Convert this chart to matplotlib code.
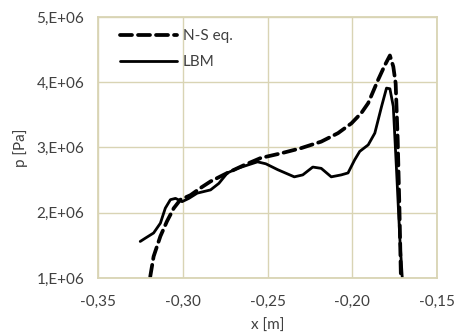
import matplotlib

matplotlib.use("Agg")

import matplotlib.pyplot as plt
from matplotlib.ticker import FuncFormatter

# N-S equations curve
ns_x = [-0.3192, -0.3172, -0.3132, -0.3093, -0.3053, -0.3014, -0.2954, -0.2895,
        -0.2836, -0.2737, -0.2638, -0.2539, -0.2421, -0.2302, -0.2183, -0.2084,
        -0.2005, -0.1946, -0.1906, -0.1847, -0.1808, -0.1778, -0.1758, -0.1744,
        -0.1732, -0.1722, -0.1713]
ns_p = [1.02e6, 1.33e6, 1.64e6, 1.87e6, 2.07e6, 2.20e6, 2.27e6, 2.38e6,
        2.48e6, 2.61e6, 2.73e6, 2.84e6, 2.91e6, 2.99e6, 3.09e6, 3.22e6,
        3.37e6, 3.53e6, 3.68e6, 4.04e6, 4.26e6, 4.41e6, 4.24e6, 3.98e6,
        3.12e6, 2.09e6, 1.0e6]

# LBM curve
lbm_x = [-0.3251, -0.3221, -0.3172, -0.3132, -0.3103, -0.3073, -0.3043, -0.3004,
         -0.2964, -0.2915, -0.2836, -0.2787, -0.2737, -0.2677, -0.2618, -0.2559,
         -0.2510, -0.2440, -0.2342, -0.2292, -0.2233, -0.2183, -0.2124, -0.2065,
         -0.2025, -0.1986, -0.1956, -0.1906, -0.1867, -0.1827, -0.1798, -0.1778,
         -0.1758, -0.1738, -0.1719, -0.1705]
lbm_p = [1.56e6, 1.61e6, 1.69e6, 1.84e6, 2.07e6, 2.20e6, 2.22e6, 2.17e6,
         2.22e6, 2.30e6, 2.35e6, 2.45e6, 2.61e6, 2.68e6, 2.73e6, 2.78e6,
         2.75e6, 2.66e6, 2.55e6, 2.58e6, 2.70e6, 2.68e6, 2.55e6, 2.58e6,
         2.61e6, 2.81e6, 2.94e6, 3.04e6, 3.22e6, 3.63e6, 3.91e6, 3.90e6,
         3.63e6, 2.61e6, 1.59e6, 1.0e6]

x_ticks = [-0.35, -0.30, -0.25, -0.20, -0.15]
y_ticks = [1e6, 2e6, 3e6, 4e6, 5e6]

plt.rcParams["font.family"] = ["Lato", "DejaVu Sans"]
grid_color = "#d9d4b4"
text_color = "#404040"

fig = plt.figure(figsize=(4.54, 3.33), dpi=100)
ax = fig.add_axes([0.2159, 0.1652, 0.9626 - 0.2159, 0.949 - 0.1652])

ax.plot(ns_x, ns_p, color="black", linewidth=2.7, linestyle=(0, (3.2, 1.6)),
        dash_capstyle="round", solid_joinstyle="round", label="N-S eq.")
ax.plot(lbm_x, lbm_p, color="black", linewidth=2.0, solid_capstyle="round",
        solid_joinstyle="round", label="LBM")

ax.set_xlim(-0.35, -0.15)
ax.set_ylim(1e6, 5e6)
ax.set_xticks(x_ticks)
ax.set_yticks(y_ticks)
ax.xaxis.set_major_formatter(FuncFormatter(lambda v, _: f"{v:.2f}".replace(".", ",")))
ax.yaxis.set_major_formatter(FuncFormatter(lambda v, _: f"{int(round(v / 1e6))},E+06"))
ax.tick_params(axis="both", length=0, labelsize=11, labelcolor=text_color)
ax.tick_params(axis="x", pad=12)
ax.tick_params(axis="y", pad=10)

ax.grid(color=grid_color, linewidth=1.0)
ax.set_axisbelow(True)
for spine in ax.spines.values():
    spine.set_color(grid_color)
    spine.set_linewidth(1.3)

ax.set_xlabel("x [m]", fontsize=11, color=text_color, labelpad=7)
ax.set_ylabel("p [Pa]", fontsize=11, color=text_color, labelpad=6)

leg = ax.legend(loc="upper left", frameon=False, fontsize=11, handlelength=3.7,
                handletextpad=0.4, labelspacing=0.8, borderaxespad=0.4,
                bbox_to_anchor=(0.03, 1.0))
for t in leg.get_texts():
    t.set_color(text_color)

fig.savefig("out.png", dpi=100)
plt.close(fig)
